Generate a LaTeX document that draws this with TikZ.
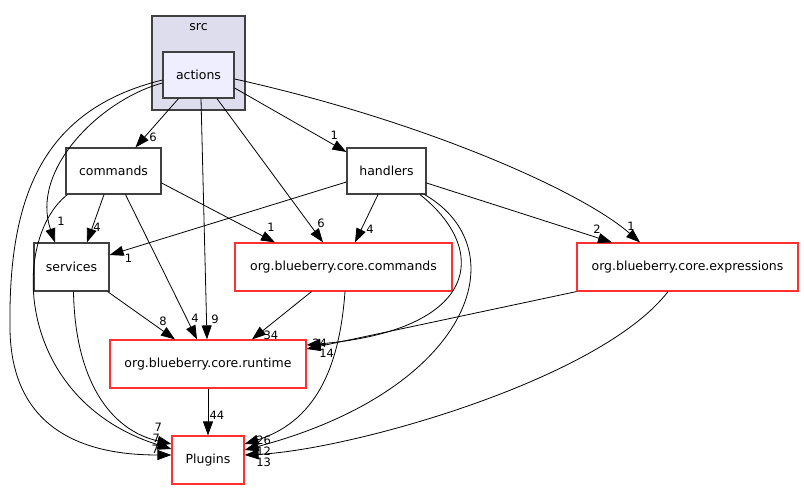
\documentclass[tikz,border=0pt]{standalone}
\usepackage{fontspec}
\setmainfont{DejaVu Sans}
\usetikzlibrary{arrows.meta,calc}
\definecolor{clusterfill}{HTML}{DDDDEE}
\definecolor{dirfill}{HTML}{EEEEFF}
\definecolor{dirline}{HTML}{404040}
\definecolor{extline}{HTML}{FF3030}
\tikzset{
  dirbox/.style={draw=dirline,line width=1.2pt,fill=white,minimum height=46pt,inner sep=0pt,font=\fontsize{12.5}{14}\selectfont},
  extbox/.style={dirbox,draw=extline,minimum height=48pt},
  dep/.style={line width=0.8pt,-{Triangle[length=14pt,width=10pt]}},
  lbl/.style={font=\fontsize{11.5}{13}\selectfont,inner sep=0pt}
}
\begin{document}
\begin{tikzpicture}[x=1pt,y=-1pt]
	\useasboundingbox (0,0) rectangle (804,489);
	% cluster
	\draw[dirline,fill=clusterfill,line width=1.2pt] (152,16) rectangle (245,110);
	\node[font=\fontsize{12.5}{14}\selectfont] (src) at (198.5,27) {src};
	\node[dirbox,fill=dirfill,minimum width=71pt] (actions) at (198.5,75) {actions};
	% directories
	\node[dirbox,minimum width=95pt] (commands) at (113.5,171) {commands};
	\node[dirbox,minimum width=79pt] (handlers) at (386.5,171) {handlers};
	\node[dirbox,minimum width=75pt,minimum height=48pt] (services) at (71.5,267) {services};
	\node[extbox,minimum width=217pt] (ccommands) at (343.5,267) {org.blueberry.core.commands};
	\node[extbox,minimum width=221pt] (cexpr) at (687.5,267) {org.blueberry.core.expressions};
	\node[extbox,minimum width=196pt] (runtime) at (208,364) {org.blueberry.core.runtime};
	\node[extbox,minimum width=72pt] (plugins) at (208,460) {Plugins};
	% from actions
	\draw[dep] ($(actions.south)+(-20,0)$) -- ($(commands.north)+(22,0)$) node[lbl,at end,xshift=17.5pt,yshift=10pt]{6};
	\draw[dep] ($(actions.west)+(0,8)$) .. controls (100,100) and (30,170) .. ($(services.north)+(-16.5,0)$) node[lbl,at end,xshift=6pt,yshift=21pt]{1};
	\draw[dep] ($(actions.west)+(0,5)$) .. controls (40,110) and (8,200) .. (10,330) .. controls (12,440) and (100,455) .. ($(plugins.west)+(0,-5)$) node[lbl,at end,xshift=-16pt,yshift=6pt]{7};
	\draw[dep] ($(actions.south)+(2.5,0)$) -- ($(runtime.north)+(-1,0)$) node[lbl,at end,xshift=8pt,yshift=20pt]{9};
	\draw[dep] ($(actions.south)+(18.5,0)$) -- ($(ccommands.north)+(-20.5,0)$) node[lbl,at end,xshift=-2pt,yshift=19pt]{6};
	\draw[dep] ($(actions.east)+(0,13)$) -- ($(handlers.west)+(0,-19)$) node[lbl,at end,xshift=-12pt,yshift=17pt]{1};
	\draw[dep] ($(actions.east)+(0,4)$) .. controls (420,120) and (580,190) .. ($(cexpr.north)+(-47.5,0)$) node[lbl,at end,xshift=-9pt,yshift=16pt]{1};
	% from commands
	\draw[dep] ($(commands.south)+(-9.5,0)$) -- ($(services.north)+(15.5,0)$) node[lbl,at end,xshift=10pt,yshift=15pt]{4};
	\draw[dep] ($(commands.east)+(0,12)$) -- ($(ccommands.north)+(-68.5,0)$) node[lbl,at end,xshift=-4pt,yshift=15pt]{1};
	\draw[dep] ($(commands.south)+(12,0)$) -- ($(runtime.north)+(-11,0)$) node[lbl,at end,xshift=-2pt,yshift=21pt]{4};
	\draw[dep] ($(commands.south west)+(2,0)$) .. controls (10,240) and (15,400) .. ($(plugins.west)+(0,-11)$) node[lbl,at end,xshift=-15pt,yshift=11pt]{7};
	% from services
	\draw[dep] ($(services.south east)+(-2,0)$) -- ($(runtime.north)+(-33,0)$) node[lbl,at end,xshift=-12pt,yshift=18pt]{8};
	\draw[dep] ($(services.south)+(2,0)$) .. controls (75,380) and (110,430) .. ($(plugins.west)+(0,-16)$) node[lbl,at end,xshift=-13pt,yshift=17pt]{7};
	% from handlers
	\draw[dep] ($(handlers.west)+(0,11)$) -- ($(services.east)+(0,-12)$) node[lbl,at end,xshift=19pt,yshift=-3pt]{1};
	\draw[dep] ($(handlers.south)+(-8.5,0)$) -- ($(ccommands.north)+(11.5,0)$) node[lbl,at end,xshift=15pt,yshift=13pt]{4};
	\draw[dep] ($(handlers.east)+(0,12)$) -- ($(cexpr.north)+(-75.5,0)$) node[lbl,at end,xshift=-15pt,yshift=13pt]{2};
	\draw[dep] ($(handlers.south)+(33.5,0)$) .. controls (490,250) and (480,330) .. ($(runtime.east)+(0,-19)$) node[lbl,at end,xshift=13pt,yshift=2pt]{24};
	\draw[dep] ($(handlers.south east)+(-2,0)$) .. controls (520,250) and (470,390) .. ($(plugins.east)+(0,-10)$) node[lbl,at end,xshift=19pt,yshift=-1pt]{12};
	% from the blueberry dirs
	\draw[dep] ($(ccommands.south)+(-32,0)$) -- ($(runtime.north)+(44,0)$) node[lbl,at end,xshift=19pt,yshift=4pt]{34};
	\draw[dep] ($(ccommands.south)+(1.5,0)$) .. controls (340,360) and (320,420) .. ($(plugins.east)+(0,-16)$) node[lbl,at end,xshift=19pt,yshift=4pt]{26};
	\draw[dep] (cexpr.south west) -- ($(runtime.east)+(0,-15)$) node[lbl,at end,xshift=20pt,yshift=-4pt]{14};
	\draw[dep] ($(cexpr.south)+(-19.5,0)$) .. controls (600,380) and (350,450) .. ($(plugins.east)+(0,-5)$) node[lbl,at end,xshift=19pt,yshift=-7pt]{13};
	\draw[dep] (runtime.south) -- (plugins.north) node[lbl,at end,xshift=9pt,yshift=20pt]{44};
\end{tikzpicture}
\end{document}
